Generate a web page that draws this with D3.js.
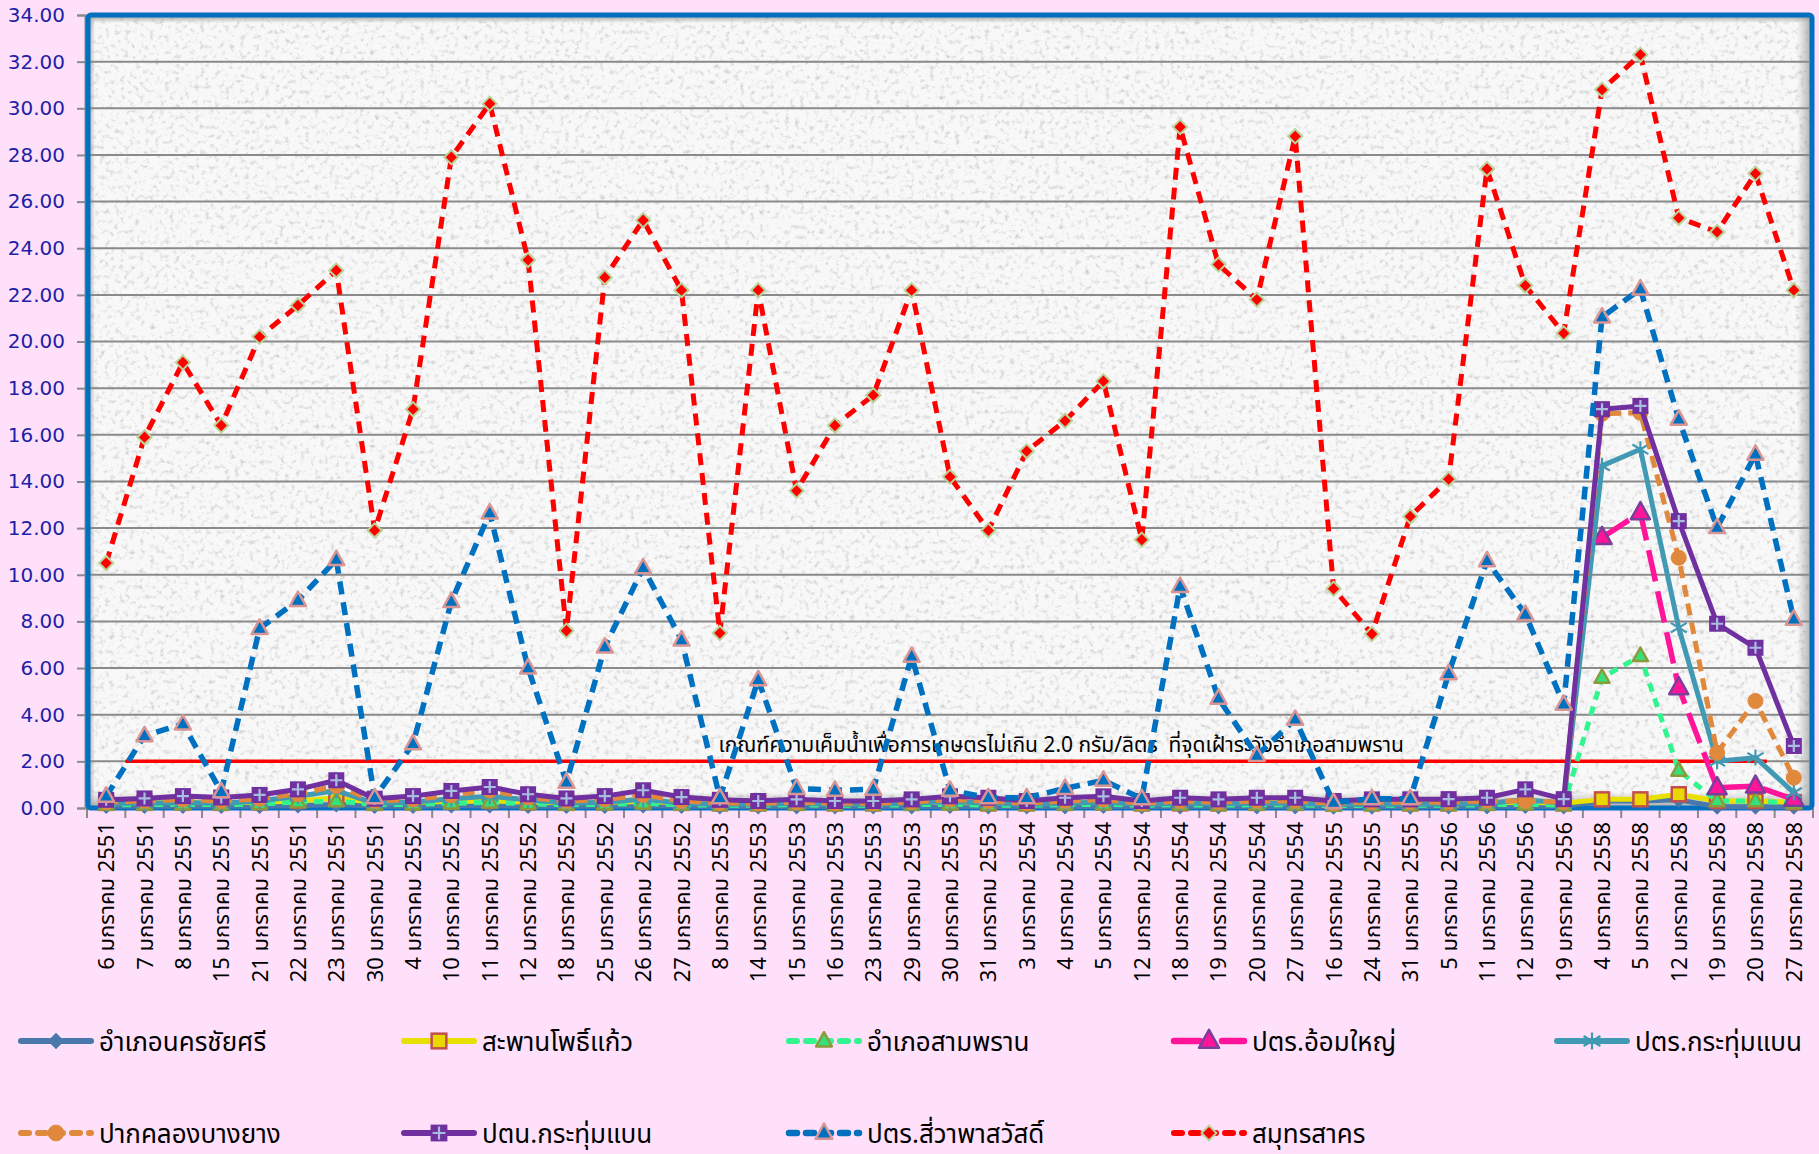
<!DOCTYPE html>
<html><head><meta charset="utf-8">
<script src="https://cdn.jsdelivr.net/npm/d3@7"></script>
<style>
html,body{margin:0;padding:0;background:#ffe0fa;}
svg{display:block;}
</style></head>
<body>
<svg id="chart" width="1819" height="1154"></svg>
<script>
// ---------------- DATA ----------------
const categories = [
"6 มกราคม 2551","7 มกราคม 2551","8 มกราคม 2551","15 มกราคม 2551","21 มกราคม 2551","22 มกราคม 2551","23 มกราคม 2551","30 มกราคม 2551",
"4 มกราคม 2552","10 มกราคม 2552","11 มกราคม 2552","12 มกราคม 2552","18 มกราคม 2552","25 มกราคม 2552","26 มกราคม 2552","27 มกราคม 2552",
"8 มกราคม 2553","14 มกราคม 2553","15 มกราคม 2553","16 มกราคม 2553","23 มกราคม 2553","29 มกราคม 2553","30 มกราคม 2553","31 มกราคม 2553",
"3 มกราคม 2554","4 มกราคม 2554","5 มกราคม 2554","12 มกราคม 2554","18 มกราคม 2554","19 มกราคม 2554","20 มกราคม 2554","27 มกราคม 2554",
"16 มกราคม 2555","24 มกราคม 2555","31 มกราคม 2555",
"5 มกราคม 2556","11 มกราคม 2556","12 มกราคม 2556","19 มกราคม 2556",
"4 มกราคม 2558","5 มกราคม 2558","12 มกราคม 2558","19 มกราคม 2558","20 มกราคม 2558","27 มกราคม 2558"];

const yTicks = [0,2,4,6,8,10,12,14,16,18,20,22,24,26,28,30,32,34];

const seriesNames = ["อำเภอนครชัยศรี","สะพานโพธิ์แก้ว","อำเภอสามพราน","ปตร.อ้อมใหญ่","ปตร.กระทุ่มแบน",
                     "ปากคลองบางยาง","ปตน.กระทุ่มแบน","ปตร.สี่วาพาสวัสดิ์","สมุทรสาคร"];

const nakhonChaiSri = [0.08,0.08,0.08,0.08,0.08,0.1,0.15,0.08,0.08,0.1,0.1,0.08,0.08,0.08,0.1,0.08,
  0.06,0.06,0.06,0.06,0.06,0.06,0.08,0.06,0.06,0.06,0.08,0.06,0.06,0.06,0.06,0.06,0.05,0.05,0.05,
  0.06,0.06,0.08,0.06, 0.3,0.3,0.35,0.05,0.05,0.05];
const saphanPhoKaeo = [0.22,0.22,0.25,0.22,0.25,0.3,0.44,0.22,0.25,0.28,0.3,0.25,0.22,0.25,0.28,0.22,
  0.2,0.2,0.22,0.2,0.2,0.22,0.25,0.2,0.2,0.22,0.25,0.2,0.2,0.2,0.22,0.22,0.18,0.2,0.2,
  0.2,0.22,0.25,0.2, 0.37,0.37,0.59,0.3,0.3,0.25];
const samPhran = [0.14,0.14,0.16,0.14,0.18,0.25,0.3,0.14,0.16,0.2,0.24,0.18,0.14,0.16,0.2,0.14,
  0.12,0.12,0.14,0.12,0.12,0.14,0.16,0.12,0.12,0.14,0.16,0.12,0.14,0.12,0.14,0.14,0.1,0.12,0.12,
  0.12,0.14,0.16,0.12, 5.59,6.52,1.6,0.3,0.3,0.2];
const omYai = [null,null,null,null,null,null,null,null,null,null,null,null,null,null,null,null,
  null,null,null,null,null,null,null,null,null,null,null,null,null,null,null,null,null,null,null,
  null,null,null,null, 11.6,12.66,5.16,0.87,0.94,0.37];
const kratumBaenGate = [0.2,0.2,0.24,0.2,0.3,0.5,0.75,0.2,0.25,0.4,0.5,0.35,0.2,0.25,0.38,0.2,
  0.16,0.16,0.2,0.16,0.16,0.2,0.28,0.2,0.16,0.2,0.26,0.16,0.2,0.18,0.2,0.2,0.14,0.16,0.16,
  0.16,0.2,0.35,0.2, 14.67,15.38,7.73,2.0,2.16,0.66];
const pakKhlongBangYang = [0.25,0.3,0.36,0.3,0.4,0.6,0.95,0.3,0.36,0.55,0.75,0.45,0.3,0.36,0.56,0.3,
  0.22,0.2,0.25,0.2,0.2,0.26,0.36,0.3,0.2,0.3,0.36,0.2,0.3,0.25,0.3,0.3,0.2,0.25,0.25,
  0.25,0.3,0.3,0.25, 16.9,16.95,10.73,2.37,4.59,1.3];
const kratumBaenPump = [0.35,0.41,0.51,0.45,0.56,0.8,1.19,0.4,0.51,0.73,0.9,0.59,0.41,0.51,0.76,0.47,
  0.35,0.3,0.37,0.3,0.3,0.37,0.5,0.44,0.3,0.44,0.5,0.3,0.44,0.37,0.44,0.44,0.3,0.37,0.37,
  0.38,0.44,0.8,0.38, 17.1,17.24,12.3,7.9,6.87,2.66];
const siWaPhaSawat = [0.5,3.1,3.6,0.7,7.7,8.9,10.65,0.44,2.75,8.85,12.65,6.0,1.1,6.9,10.3,7.2,
  0.44,5.5,0.84,0.76,0.8,6.5,0.76,0.44,0.44,0.84,1.19,0.4,9.5,4.7,2.25,3.8,0.23,0.4,0.4,
  5.76,10.6,8.3,4.45, 21.05,22.25,16.67,12.02,15.17,8.09];
const samutSakhon = [10.5,15.9,19.1,16.4,20.2,21.55,23.05,11.9,17.1,27.9,30.2,23.5,7.6,22.75,25.2,22.2,
  7.5,22.2,13.6,16.4,17.7,22.2,14.2,11.9,15.3,16.6,18.3,11.5,29.2,23.3,21.8,28.8,9.4,7.46,12.5,
  14.1,27.4,22.4,20.35, 30.8,32.3,25.3,24.7,27.2,22.2];

const threshold = 2.0;
const thresholdSpan = [0.5, 43.3];   // in category-index units
const thresholdLabel = "เกณฑ์ความเค็มน้ำเพื่อการเกษตรไม่เกิน 2.0 กรัม/ลิตร  ที่จุดเฝ้าระวังอำเภอสามพราน";
const thresholdLabelCenter = 24.9;   // category-index units

// ---------------- STYLE ----------------
const styles = [
  {color:"#4a78ab", w:5,   dash:null,        marker:"diamond",  size:11, fill:"#4a78ab", stroke:"#4a78ab"},
  {color:"#e8e000", w:5,   dash:null,        marker:"square",   size:14, fill:"#e8d800", stroke:"#c0504d"},
  {color:"#33f58f", w:5,   dash:"9,7",       marker:"triangle", size:15, fill:"#33e37a", stroke:"#8c9a3c"},
  {color:"#ff149a", w:5.5, dash:"32,10",     marker:"triangle", size:19, fill:"#ff149a", stroke:"#7a3f9a"},
  {color:"#4299b3", w:5,   dash:null,        marker:"star",     size:16, fill:"none",    stroke:"#4299b3"},
  {color:"#e0883c", w:5,   dash:"12,7",      marker:"circle",   size:15, fill:"#e0883c", stroke:"#e0883c"},
  {color:"#7030a0", w:5,   dash:null,        marker:"plussq",   size:16, fill:"#7030a0", stroke:"#7030a0"},
  {color:"#0070c0", w:5.5, dash:"13,8",      marker:"triangle", size:16, fill:"#0070c0", stroke:"#d99594"},
  {color:"#ff0000", w:5,   dash:"12,8",      marker:"diamond",  size:12, fill:"#ff0000", stroke:"#b8d49a"}
];
const seriesValues = [nakhonChaiSri,saphanPhoKaeo,samPhran,omYai,kratumBaenGate,pakKhlongBangYang,kratumBaenPump,siWaPhaSawat,samutSakhon];

const W = 1819, H = 1154;
const P = {l:87, r:1813, t:15, b:808};
const svg = d3.select("#chart");
const FONT = "Tahoma, 'Leelawadee UI', 'Noto Sans Thai', 'Noto Sans', 'DejaVu Sans', sans-serif";

const x = d3.scaleBand().domain(categories).range([P.l, P.r]).padding(0);
const step = x.step();
const xc = i => x(categories[i]) + x.bandwidth()/2;
const xi = t => P.l + step/2 + t*step;  // fractional index
const y = d3.scaleLinear().domain([0,34]).range([P.b, P.t]);

// defs: texture + shadows
const defs = svg.append("defs");
const f = defs.append("filter").attr("id","tex").attr("x",0).attr("y",0).attr("width",1).attr("height",1);
f.append("feTurbulence").attr("type","fractalNoise").attr("baseFrequency","0.2").attr("numOctaves",3).attr("seed",5).attr("result","n");
f.append("feColorMatrix").attr("in","n").attr("type","matrix")
  .attr("values","0 0 0 0 0.6  0 0 0 0 0.6  0 0 0 0 0.6  2.6 0 0 0 -1.38").attr("result","spk");
f.append("feFlood").attr("flood-color","#f8f8f8").attr("result","bg");
const fm = f.append("feMerge"); fm.append("feMergeNode").attr("in","bg"); fm.append("feMergeNode").attr("in","spk");
function grad(id,x1,y1,x2,y2){
  const g = defs.append("linearGradient").attr("id",id).attr("x1",x1).attr("y1",y1).attr("x2",x2).attr("y2",y2);
  g.append("stop").attr("offset","0").attr("stop-color","#9a9a9a").attr("stop-opacity",0.75);
  g.append("stop").attr("offset","1").attr("stop-color","#9a9a9a").attr("stop-opacity",0);
}
grad("shR","1","0","0","0"); grad("shB","0","1","0","0"); grad("shL","0","0","1","0"); grad("shT","0","0","0","1");

// plot background
svg.append("rect").attr("x",P.l).attr("y",P.t).attr("width",P.r-P.l).attr("height",P.b-P.t)
  .attr("fill","#f5f5f5").attr("filter","url(#tex)");
svg.append("rect").attr("x",P.r-16).attr("y",P.t).attr("width",14).attr("height",P.b-P.t).attr("fill","url(#shR)");
svg.append("rect").attr("x",P.l).attr("y",P.b-16).attr("width",P.r-P.l).attr("height",14).attr("fill","url(#shB)");
svg.append("rect").attr("x",P.l+2).attr("y",P.t).attr("width",6).attr("height",P.b-P.t).attr("fill","url(#shL)");
svg.append("rect").attr("x",P.l).attr("y",P.t+2).attr("width",P.r-P.l).attr("height",6).attr("fill","url(#shT)");

// gridlines
svg.append("g").selectAll("line").data(yTicks.filter(d=>d>0 && d<34)).join("line")
  .attr("x1",P.l).attr("x2",P.r-4).attr("y1",d=>y(d)).attr("y2",d=>y(d))
  .attr("stroke","#8a8a8a").attr("stroke-width",2);

// y axis
const yAxis = d3.axisLeft(y).tickValues(yTicks).tickFormat(d3.format(".2f")).tickSize(8).tickPadding(12);
const gy = svg.append("g").attr("transform",`translate(${P.l-2},0)`).call(yAxis);
gy.select(".domain").attr("stroke","#8a8a8a").attr("stroke-width",2);
gy.selectAll(".tick line").attr("stroke","#8a8a8a").attr("stroke-width",2);
gy.selectAll(".tick text").attr("fill","#1e1ea6").attr("font-size","20px").attr("font-family","Tahoma, 'DejaVu Sans', sans-serif");

// x axis ticks (category boundaries)
const bounds = d3.range(categories.length+1).map(i => P.l + i*step);
svg.append("g").selectAll("line").data(bounds).join("line")
  .attr("x1",d=>d).attr("x2",d=>d).attr("y1",P.b).attr("y2",P.b+10)
  .attr("stroke","#8a8a8a").attr("stroke-width",2);
// x labels
svg.append("g").selectAll("text").data(categories).join("text")
  .attr("transform",(d,i)=>`translate(${xc(i)+8},${P.b+14}) rotate(-90)`)
  .attr("text-anchor","end").attr("font-size","22px").attr("font-family",FONT).attr("fill","#000")
  .text(d=>d);

// border
svg.append("rect").attr("x",P.l+1).attr("y",P.t).attr("width",P.r-P.l-2).attr("height",P.b-P.t)
  .attr("rx",3).attr("fill","none").attr("stroke","#0070c0").attr("stroke-width",5);

// threshold line + label
svg.append("line").attr("x1",xi(thresholdSpan[0])).attr("x2",xi(thresholdSpan[1]))
  .attr("y1",y(threshold)).attr("y2",y(threshold)).attr("stroke","#ff0000").attr("stroke-width",3.5);
svg.append("text").attr("x",xi(thresholdLabelCenter)).attr("y",y(threshold)-9)
  .attr("text-anchor","middle").attr("font-size","21px").attr("font-family",FONT).attr("fill","#000")
  .style("white-space","pre").attr("xml:space","preserve")
  .text(thresholdLabel);

// markers
function drawMarker(g, st, cx, cy, scale=1){
  const s = st.size*scale;
  if(st.marker==="diamond"){
    g.append("rect").attr("x",cx-s/2/1.2).attr("y",cy-s/2/1.2).attr("width",s/1.2).attr("height",s/1.2)
      .attr("transform",`rotate(45,${cx},${cy})`).attr("fill",st.fill).attr("stroke",st.stroke).attr("stroke-width",2);
  } else if(st.marker==="square"){
    g.append("rect").attr("x",cx-s/2).attr("y",cy-s/2).attr("width",s).attr("height",s)
      .attr("fill",st.fill).attr("stroke",st.stroke).attr("stroke-width",2.5);
  } else if(st.marker==="triangle"){
    const h = s*0.9;
    g.append("path").attr("d",`M${cx},${cy-h*0.62}L${cx+s/2},${cy+h*0.38}L${cx-s/2},${cy+h*0.38}Z`)
      .attr("fill",st.fill).attr("stroke",st.stroke).attr("stroke-width",2.5).attr("stroke-linejoin","round");
  } else if(st.marker==="circle"){
    g.append("circle").attr("cx",cx).attr("cy",cy).attr("r",s/2).attr("fill",st.fill).attr("stroke",st.stroke);
  } else if(st.marker==="star"){
    const r = s/2;
    const p = `M${cx},${cy-r}L${cx},${cy+r}M${cx-r},${cy-r*0.6}L${cx+r},${cy+r*0.6}M${cx-r},${cy+r*0.6}L${cx+r},${cy-r*0.6}`;
    g.append("path").attr("d",p).attr("stroke",st.stroke).attr("stroke-width",2.2).attr("fill","none");
  } else if(st.marker==="plussq"){
    g.append("rect").attr("x",cx-s/2).attr("y",cy-s/2).attr("width",s).attr("height",s).attr("fill",st.fill);
    g.append("path").attr("d",`M${cx-s/2+2},${cy}L${cx+s/2-2},${cy}M${cx},${cy-s/2+2}L${cx},${cy+s/2-2}`)
      .attr("stroke","#a8bde0").attr("stroke-width",2.2);
  }
}

// series
const line = d3.line().defined(d=>d.v!=null).x(d=>xc(d.i)).y(d=>y(d.v));
seriesValues.forEach((vals,si)=>{
  const st = styles[si];
  const pts = vals.map((v,i)=>({i,v}));
  const g = svg.append("g");
  g.append("path").attr("d",line(pts)).attr("fill","none").attr("stroke",st.color)
    .attr("stroke-width",st.w).attr("stroke-dasharray",st.dash).attr("stroke-linejoin","round");
  pts.filter(d=>d.v!=null).forEach(d=>drawMarker(g,st,xc(d.i),y(d.v)));
});

// legend
const legX = [21,404,789,1174,1557];
const legY = [1041,1133];
seriesNames.forEach((name,si)=>{
  const st = styles[si];
  const lx = legX[si%5], ly = legY[Math.floor(si/5)];
  const g = svg.append("g");
  g.append("line").attr("x1",lx).attr("x2",lx+70).attr("y1",ly).attr("y2",ly)
    .attr("stroke",st.color).attr("stroke-width",st.w+1).attr("stroke-linecap","round")
    .attr("stroke-dasharray",st.dash ? (si===3 ? "26,10,2,10" : "8,9") : null);
  drawMarker(g,st,lx+35,ly,1.05);
  g.append("text").attr("x",lx+78).attr("y",ly+10).attr("font-size","26px").attr("font-family",FONT)
    .attr("fill","#000").text(name);
});
</script>
</body></html>
